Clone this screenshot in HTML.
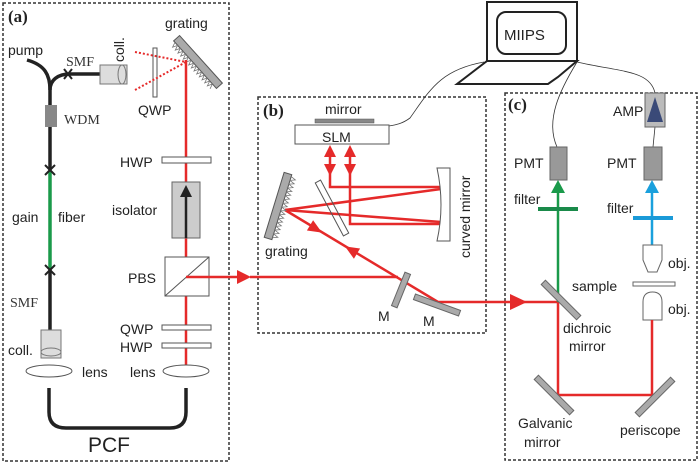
<!DOCTYPE html>
<html><head><meta charset="utf-8"><style>
html,body{margin:0;padding:0;background:#fff;}
svg{display:block;}
text{font-family:"Liberation Sans",sans-serif;font-size:14px;fill:#222;}
.sf{font-family:"Liberation Serif",serif;fill:#333;}
.bd{font-family:"Liberation Serif",serif;font-weight:bold;font-size:17px;fill:#222;}
</style></head><body>
<svg width="700" height="464" viewBox="0 0 700 464" xmlns="http://www.w3.org/2000/svg">
<!-- boxes -->
<g fill="none" stroke="#333" stroke-width="1.5" stroke-dasharray="3,2">
<rect x="3" y="3" width="226" height="458"/>
<rect x="258" y="97" width="228" height="236"/>
<rect x="505" y="93" width="192" height="367"/>
</g>
<!-- laptop -->
<rect x="487" y="2" width="90" height="59" fill="#fff" stroke="#222" stroke-width="2"/>
<rect x="497" y="12" width="69" height="42" rx="9" fill="#fff" stroke="#222" stroke-width="2"/>
<text x="504" y="40" style="font-size:15px">MIIPS</text>
<path d="M487,61 L577,61 L558,77 L548,84 L457,84 Z" fill="#fff" stroke="#222" stroke-width="2"/>
<g fill="none" stroke="#333" stroke-width="0.8">
<path d="M484,62 C440,70 430,90 410,118 C402,124 395,125 389,126"/>
<path d="M577,62 C560,90 545,120 557,147"/>
<path d="M577,62 C620,72 650,70 655,93"/>
<path d="M655,127 L653,147"/>
</g>
<!-- panel a -->
<text x="8" y="22" class="bd">(a)</text>
<text x="8" y="55">pump</text>
<text x="66" y="66" class="sf">SMF</text>
<text x="0" y="0" transform="translate(124,62) rotate(-90)">coll.</text>
<g fill="none" stroke="#222" stroke-width="3.5">
<path d="M27,60 C45,65 50,75 50,90 L50,170"/>
<path d="M50,90 C50,80 58,74 70,74 L100,74"/>
<path d="M50,270 L50,330"/>
<path d="M49,388 L49,412 Q49,428 66,428 L170,428 Q186,428 186,412 L186,388"/>
</g>
<line x1="50" y1="170" x2="50" y2="270" stroke="#1a9a4a" stroke-width="3.5"/>
<g stroke="#222" stroke-width="2">
<path d="M64,69 L72,79 M72,69 L64,79"/>
<path d="M45,165 L55,175 M55,165 L45,175"/>
<path d="M45,265 L55,275 M55,265 L45,275"/>
</g>
<rect x="45" y="105" width="12" height="22" fill="#888"/>
<text x="64" y="124" class="sf">WDM</text>
<rect x="100" y="65" width="27" height="19" fill="#ddd" stroke="#777"/>
<ellipse cx="122" cy="74.5" rx="4" ry="9.5" fill="none" stroke="#777"/>
<rect x="153" y="48" width="4" height="49" fill="#fff" stroke="#555"/>
<text x="138" y="115">QWP</text>
<g stroke="#e52a2a" stroke-width="2" stroke-dasharray="2,2">
<line x1="135" y1="52" x2="186" y2="62"/>
<line x1="135" y1="90" x2="186" y2="62"/>
</g>
<text x="165" y="28">grating</text>
<g transform="translate(198,62) rotate(48)">
<rect x="-32" y="-4" width="64" height="8" fill="#aaa" stroke="#555"/>
<path d="M-30,4 l2,5 l2,-5 l2,5 l2,-5 l2,5 l2,-5 l2,5 l2,-5 l2,5 l2,-5 l2,5 l2,-5 l2,5 l2,-5 l2,5 l2,-5 l2,5 l2,-5 l2,5 l2,-5 l2,5 l2,-5 l2,5 l2,-5 l2,5 l2,-5 l2,5 l2,-5 l2,5" fill="none" stroke="#777" stroke-width="0.8"/>
</g>
<line x1="186" y1="60" x2="186" y2="365" stroke="#e52a2a" stroke-width="2.5"/>
<rect x="162" y="157" width="49" height="6" fill="#fff" stroke="#555"/>
<text x="120" y="167">HWP</text>
<rect x="172" y="182" width="28" height="56" fill="#ccc" stroke="#666"/>
<line x1="186" y1="238" x2="186" y2="196" stroke="#222" stroke-width="2.5"/>
<path d="M180,197 L186,185 L192,197 Z" fill="#222"/>
<text x="112" y="215">isolator</text>
<rect x="165" y="257" width="44" height="39" fill="#fff" stroke="#555"/>
<line x1="165" y1="296" x2="209" y2="257" stroke="#555"/>
<line x1="186" y1="277" x2="240" y2="277" stroke="#e52a2a" stroke-width="2.5"/>
<path d="M237,270 L251,277 L237,284Z" fill="#e52a2a"/>
<text x="128" y="283">PBS</text>
<rect x="162" y="325" width="49" height="5" fill="#fff" stroke="#555"/>
<rect x="162" y="343" width="49" height="5" fill="#fff" stroke="#555"/>
<text x="120" y="334">QWP</text>
<text x="120" y="352">HWP</text>
<rect x="41" y="330" width="20" height="28" fill="#ddd" stroke="#777"/>
<ellipse cx="51" cy="352" rx="10" ry="4" fill="none" stroke="#777"/>
<ellipse cx="49" cy="371" rx="23" ry="6" fill="#fff" stroke="#555"/>
<ellipse cx="186" cy="371" rx="23" ry="6" fill="#fff" stroke="#555"/>
<text x="82" y="377">lens</text>
<text x="130" y="377">lens</text>
<text x="10" y="307" class="sf">SMF</text>
<text x="8" y="355">coll.</text>
<text x="12" y="222">gain</text>
<text x="58" y="222">fiber</text>
<text x="88" y="452" style="font-size:21px">PCF</text>
<!-- panel b -->
<text x="263" y="116" class="bd">(b)</text>
<text x="325" y="114">mirror</text>
<rect x="315" y="119" width="59" height="4" fill="#888" stroke="#555" stroke-width="0.5"/>
<rect x="295" y="125" width="94" height="19" fill="#fff" stroke="#555"/>
<text x="322" y="142">SLM</text>
<g stroke="#e52a2a" stroke-width="2.5" fill="none">
<path d="M330,150 L330,187 L441,187"/>
<path d="M350,150 L350,224 L441,224"/>
<path d="M285,210 L441,189"/>
<path d="M285,210 L441,222"/>
<path d="M285,210 L438,302 L560,302"/>
<path d="M250,277 L398,277"/>
</g>
<g fill="#e52a2a">
<path d="M324,157 L330,145 L336,157Z M324,164 L330,176 L336,164Z"/>
<path d="M344,157 L350,145 L356,157Z M344,164 L350,176 L356,164Z"/>
<path d="M-7,-6 L7,0 L-7,6Z" transform="translate(316,229) rotate(31)"/>
<path d="M-7,-6 L7,0 L-7,6Z" transform="translate(351,250) rotate(211)"/>
<path d="M510,294 L527,302 L510,310Z"/>
</g>
<rect x="-3" y="-30" width="6" height="60" fill="none" stroke="#555" transform="translate(332,208) rotate(-28)"/>
<path d="M437,168 L450,168 L450,241 L437,241 Q445,205 437,168Z" fill="#fff" stroke="#555"/>
<text x="0" y="0" transform="translate(470,258) rotate(-90)">curved mirror</text>
<g transform="translate(278,206) rotate(17)">
<rect x="-4" y="-34" width="8" height="68" fill="#aaa" stroke="#555"/>
<path d="M4,-32 l5,2 l-5,2 l5,2 l-5,2 l5,2 l-5,2 l5,2 l-5,2 l5,2 l-5,2 l5,2 l-5,2 l5,2 l-5,2 l5,2 l-5,2 l5,2 l-5,2 l5,2 l-5,2 l5,2 l-5,2 l5,2 l-5,2 l5,2 l-5,2 l5,2 l-5,2 l5,2 l-5,2 l5,2 l-5,2" fill="none" stroke="#777" stroke-width="0.8"/>
</g>
<text x="265" y="256">grating</text>
<rect x="-3" y="-18" width="6" height="36" fill="#aaa" stroke="#666" transform="translate(401,290) rotate(22)"/>
<rect x="-3" y="-24" width="6" height="48" fill="#aaa" stroke="#666" transform="translate(437,305) rotate(-70)"/>
<text x="378" y="321">M</text>
<text x="423" y="326">M</text>
<!-- panel c -->
<text x="508" y="110" class="bd">(c)</text>
<rect x="645" y="93" width="20" height="34" fill="#bbb" stroke="#666"/>
<path d="M647,122 L655,97 L663,122Z" fill="#3a4a78"/>
<text x="613" y="116">AMP</text>
<rect x="550" y="147" width="17" height="33" fill="#999" stroke="#666"/>
<rect x="644" y="147" width="18" height="33" fill="#999" stroke="#666"/>
<text x="514" y="168">PMT</text>
<text x="607" y="168">PMT</text>
<line x1="558" y1="190" x2="558" y2="302" stroke="#1a9a4a" stroke-width="2.5"/>
<path d="M551,193 L558,180 L565,193Z" fill="#1a9a4a"/>
<rect x="538" y="207" width="40" height="4" fill="#1a8a4a"/>
<text x="514" y="204">filter</text>
<line x1="652" y1="190" x2="652" y2="245" stroke="#1aa0dd" stroke-width="2.5"/>
<path d="M645,193 L652,180 L659,193Z" fill="#1aa0dd"/>
<rect x="633" y="216" width="40" height="4" fill="#1a9ad8"/>
<text x="607" y="213">filter</text>
<path d="M643,245 L662,245 L662,260 L657,272 L648,272 L643,260Z" fill="#fff" stroke="#666"/>
<rect x="633" y="282" width="42" height="4" fill="#fff" stroke="#666"/>
<path d="M643,320 L662,320 L662,302 Q662,292 652.5,292 Q643,292 643,302Z" fill="#fff" stroke="#666"/>
<text x="668" y="268">obj.</text>
<text x="668" y="314">obj.</text>
<text x="572" y="291">sample</text>
<g stroke="#e52a2a" stroke-width="2.5" fill="none">
<path d="M558,302 L558,395 L652,395 L652,320"/>
</g>
<rect x="-3" y="-25" width="6" height="50" fill="#aaa" stroke="#666" transform="translate(561,300) rotate(-45)"/>
<rect x="-3" y="-25" width="6" height="50" fill="#aaa" stroke="#666" transform="translate(554,395) rotate(-45)"/>
<rect x="-3" y="-25" width="6" height="50" fill="#aaa" stroke="#666" transform="translate(655,397) rotate(45)"/>
<text x="563" y="333">dichroic</text>
<text x="569" y="351">mirror</text>
<text x="518" y="428">Galvanic</text>
<text x="524" y="447">mirror</text>
<text x="620" y="435">periscope</text>
</svg>
</body></html>
